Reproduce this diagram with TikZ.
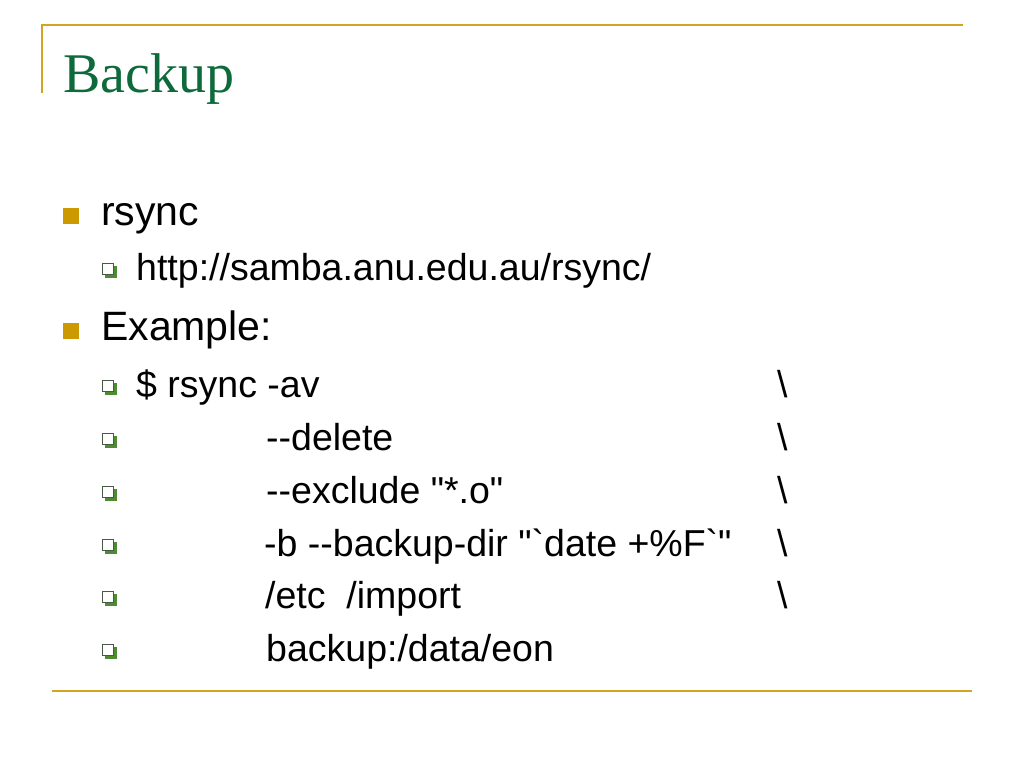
\documentclass[tikz,border=0pt]{standalone}
\usepackage{fontspec}
\setmainfont{Liberation Serif}
\newfontfamily\slidefont{Liberation Sans}
\newfontfamily\titlefont{Liberation Serif}
\definecolor{gold}{RGB}{210,164,32}
\definecolor{bulgold}{RGB}{204,153,0}
\definecolor{titlegreen}{RGB}{14,106,58}
\definecolor{shadowgreen}{RGB}{78,140,52}
\definecolor{boxedge}{RGB}{70,90,70}
\begin{document}
\begin{tikzpicture}[x=1pt,y=-1pt,
  lvlone/.style={anchor=base west,inner sep=0pt,font=\slidefont\fontsize{41}{48}\selectfont},
  lvltwo/.style={anchor=base west,inner sep=0pt,font=\slidefont\fontsize{37.5}{44}\selectfont},
  titletext/.style={anchor=base west,inner sep=0pt,text=titlegreen,font=\titlefont\fontsize{56}{66}\selectfont},
  rule/.style={draw=gold,line width=2.8pt},
  bigbullet/.style={fill=bulgold},
  smallshadow/.style={fill=shadowgreen},
  smallbox/.style={fill=white,draw=boxedge,line width=1pt}]
\useasboundingbox (0,0) rectangle (1024,768);
\fill[white] (0,0) rectangle (1024,768);
% frame rules
\coordinate (tl) at (42,25);
\coordinate (tr) at (963,25);
\coordinate (vl) at (42,93);
\coordinate (bl) at (52,691);
\coordinate (br) at (972,691);
\draw[rule] (vl) -- (tl) -- (tr);
\draw[rule] (bl) -- (br);
% title
\node[titletext] (title) at (63,92) {Backup};
% level one items
\fill[bigbullet] (63,208) rectangle (79,224);
\node[lvlone] (rsync) at (101,225) {rsync};
\fill[bigbullet] (63,323) rectangle (79,339);
\node[lvlone] (example) at (101,340) {Example:};
% level two bullets
\foreach \b in {279,396,449,502,555,607,660}{
  \fill[smallshadow] (105,\b-13) rectangle (117,\b-1.5);
  \filldraw[smallbox] (102.5,\b-15.5) rectangle (113.5,\b-4.5);
}
\node[lvltwo] (url) at (136,280) {http://samba.anu.edu.au/rsync/};
\node[lvltwo] (c1) at (136,397) {\$ rsync -av};
\node[lvltwo] (c2) at (266,450) {--delete};
\node[lvltwo] (c3) at (266,503) {--exclude "*.o"};
\node[lvltwo] (c4) at (264,556) {-b --backup-dir "`date +\%F`"};
\node[lvltwo] (c5) at (265,608) {/etc\ \ /import};
\node[lvltwo] (c6) at (266,661) {backup:/data/eon};
% continuation backslashes
\foreach \b/\n in {397/1,450/2,503/3,556/4,608/5}{
  \node[lvltwo] (bs\n) at (777,\b) {\textbackslash};
}
\end{tikzpicture}
\end{document}
